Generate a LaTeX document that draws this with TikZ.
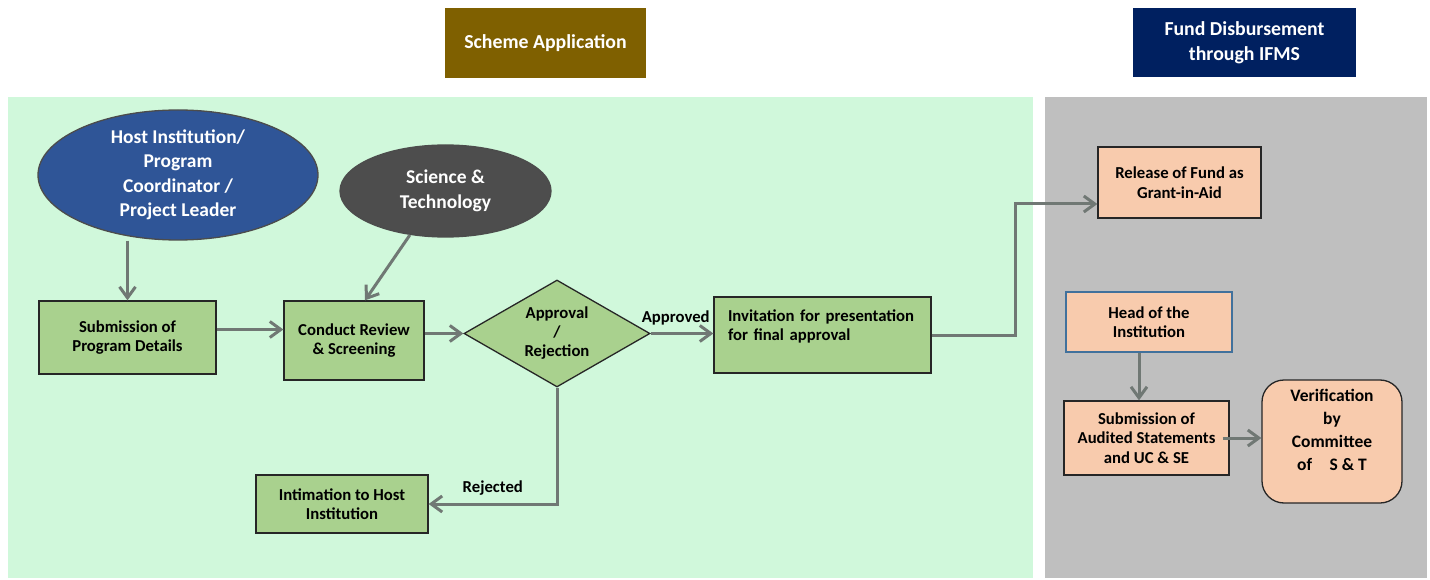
\documentclass[tikz,border=0pt]{standalone}
\usepackage{fontspec}
\setmainfont{Carlito}
\usetikzlibrary{shapes.geometric,arrows.meta}
\definecolor{mint}{RGB}{208,248,219}
\definecolor{panelgray}{RGB}{191,191,191}
\definecolor{boxgreen}{RGB}{169,209,142}
\definecolor{peach}{RGB}{248,203,173}
\definecolor{hostblue}{RGB}{47,85,151}
\definecolor{scigray}{RGB}{77,77,77}
\definecolor{schbrown}{RGB}{127,96,0}
\definecolor{fundnavy}{RGB}{0,32,96}
\definecolor{arrowgray}{RGB}{112,120,116}
\definecolor{headblue}{RGB}{65,113,156}
\tikzset{
  txt/.style={font=\bfseries\fontsize{16.7}{19.5}\selectfont},
  gbox/.style={draw=black!85,line width=1.3pt,fill=boxgreen,align=center,inner sep=0pt,txt},
  pbox/.style={draw=black!85,line width=1.3pt,fill=peach,align=center,inner sep=0pt,txt},
  headbox/.style={fill=#1,text=white,align=center,inner sep=0pt,font=\bfseries\fontsize{19.8}{25}\selectfont},
  bubble/.style={ellipse,fill=#1,draw=black!70,line width=1.3pt,text=white,align=center,inner sep=0pt,font=\bfseries\fontsize{19.5}{24.5}\selectfont},
  flow/.style={draw=arrowgray,line width=3pt,-{Straight Barb[length=11pt,width=16pt]}}
}
\begin{document}
\begin{tikzpicture}[x=1pt,y=-1pt]
\useasboundingbox (0,0) rectangle (1430,580);
\fill[mint] (8,97) rectangle (1033,578);
\fill[panelgray] (1045,97) rectangle (1427,578);

\node[headbox=schbrown,minimum width=201pt,minimum height=70pt] (sch) at (545.5,43) {Scheme Application};
\node[headbox=fundnavy,minimum width=223pt,minimum height=69pt] (fund) at (1244.5,42.5) {Fund Disbursement\\through IFMS};

\node[bubble=hostblue,minimum width=280pt,minimum height=130pt] (host) at (178,175) {Host Institution/\\Program\\Coordinator /\\Project Leader};
\node[bubble=scigray,minimum width=211pt,minimum height=92pt] (sci) at (445.5,191) {Science \&\\Technology};

\node[gbox,minimum width=177pt,minimum height=73pt] (sub) at (127.5,337.5) {Submission of\\Program Details};
\node[gbox,minimum width=140pt,minimum height=79pt] (rev) at (354,340.5) {Conduct Review\\\& Screening};
\node[gbox,diamond,inner sep=-8pt,minimum width=186pt,minimum height=107pt,font=\bfseries\fontsize{16.7}{19}\selectfont] (dec) at (557,333.5) {Approval\\/\\Rejection};
\node[gbox,minimum width=217pt,minimum height=76pt,text width=189pt,align=left] (inv) at (822.5,335) {Invitation for presentation\\for final approval\\\mbox{}};
\node[gbox,minimum width=172pt,minimum height=58pt] (int) at (342,504) {Intimation to Host\\Institution};

\node[pbox,minimum width=163pt,minimum height=71pt] (rel) at (1179.5,182.5) {Release of Fund as\\Grant-in-Aid};
\node[pbox,draw=headblue,minimum width=166pt,minimum height=60pt] (head) at (1149,322) {Head of the\\Institution};
\node[pbox,minimum width=165pt,minimum height=74pt] (aud) at (1146.5,438) {Submission of\\Audited Statements\\and UC \& SE};
\node[pbox,rounded corners=22pt,minimum width=140pt,minimum height=123pt,font=\bfseries\fontsize{17.5}{23}\selectfont] (ver) at (1332,441.5) {Verification\\by\\Committee\\of\quad S \& T\\\mbox{}};

\coordinate (bend) at (1015,0);

\draw[flow] (sub.north |- host.south) -- (sub.north);
\draw[flow] (sci.231) -- ([xshift=11pt]rev.north);
\draw[flow] ([yshift=8pt]sub.east) -- ([yshift=8pt]sub.east -| rev.west);
\draw[flow] (rev.east |- dec.west) -- (dec.west);
\draw[flow] (dec.east) -- node[above=4pt,pos=0.4,txt]{Approved} (dec.east -| inv.west);
\draw[flow] (dec.south) |- node[above=4pt,pos=0.75,txt]{Rejected} (int.east);
\draw[flow] (inv.east) -| (bend |- 0,204) -- ([yshift=-21.5pt]rel.west);
\draw[flow] ([xshift=-10pt]head.south) -- ([xshift=-10pt]head.south |- aud.north);
\draw[flow] ([xshift=-7pt]aud.east) -- (aud.east -| ver.west);
\end{tikzpicture}
\end{document}
